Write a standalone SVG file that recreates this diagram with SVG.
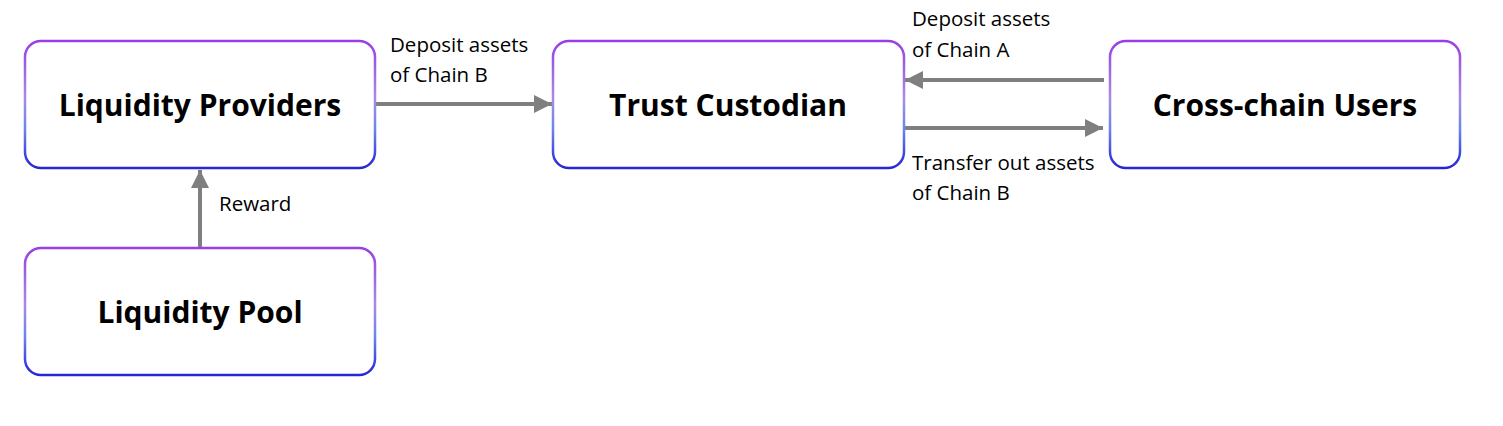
<svg xmlns="http://www.w3.org/2000/svg" width="1503" height="426" viewBox="0 0 1503 426">
  <defs>
    <linearGradient id="bd" x1="0" y1="0" x2="0" y2="1">
      <stop offset="0" stop-color="#9a3de6"/>
      <stop offset="0.45" stop-color="#a98ce0"/>
      <stop offset="0.7" stop-color="#6b82f5"/>
      <stop offset="1" stop-color="#2626d6"/>
    </linearGradient>
    <marker id="ah" viewBox="0 0 10 10" refX="10" refY="5" markerWidth="4.5" markerHeight="4.5" markerUnits="strokeWidth" orient="auto">
      <path d="M0,0 L10,5 L0,10 Z" fill="#7f7f7f"/>
    </marker>
  </defs>
  <style>
    .box { fill: #ffffff; stroke: url(#bd); stroke-width: 2.5; }
    .title { font-family: "Open Sans", "Liberation Sans", sans-serif; font-weight: bold; font-size: 30px; fill: #000000; text-anchor: middle; }
    .lbl { font-family: "Open Sans", "Liberation Sans", sans-serif; font-size: 20.5px; fill: #000000; }
    .conn { stroke: #7f7f7f; stroke-width: 4; fill: none; marker-end: url(#ah); }
  </style>
  <rect width="1503" height="426" fill="#ffffff"/>
  <g id="connectors">
    <line class="conn" x1="376" y1="104" x2="552" y2="104"/>
    <line class="conn" x1="1104" y1="80" x2="905" y2="80"/>
    <line class="conn" x1="905" y1="128" x2="1103" y2="128"/>
    <line class="conn" x1="200" y1="248" x2="200" y2="170"/>
    <text class="lbl" x="390" y="52">Deposit assets</text>
    <text class="lbl" x="390" y="82">of Chain B</text>
    <text class="lbl" x="912" y="26">Deposit assets</text>
    <text class="lbl" x="912" y="57">of Chain A</text>
    <text class="lbl" x="912" y="170">Transfer out assets</text>
    <text class="lbl" x="912" y="200">of Chain B</text>
    <text class="lbl" x="219" y="211">Reward</text>
  </g>
  <g id="liquidity-providers">
    <rect class="box" x="25" y="41" width="350" height="127" rx="16"/>
    <text class="title" x="200" y="116">Liquidity Providers</text>
  </g>
  <g id="trust-custodian">
    <rect class="box" x="553" y="41" width="351" height="127" rx="16"/>
    <text class="title" x="728" y="116">Trust Custodian</text>
  </g>
  <g id="cross-chain-users">
    <rect class="box" x="1110" y="41" width="350" height="127" rx="16"/>
    <text class="title" x="1285" y="116">Cross-chain Users</text>
  </g>
  <g id="liquidity-pool">
    <rect class="box" x="25" y="248" width="350" height="127" rx="16"/>
    <text class="title" x="200" y="323">Liquidity Pool</text>
  </g>
</svg>
